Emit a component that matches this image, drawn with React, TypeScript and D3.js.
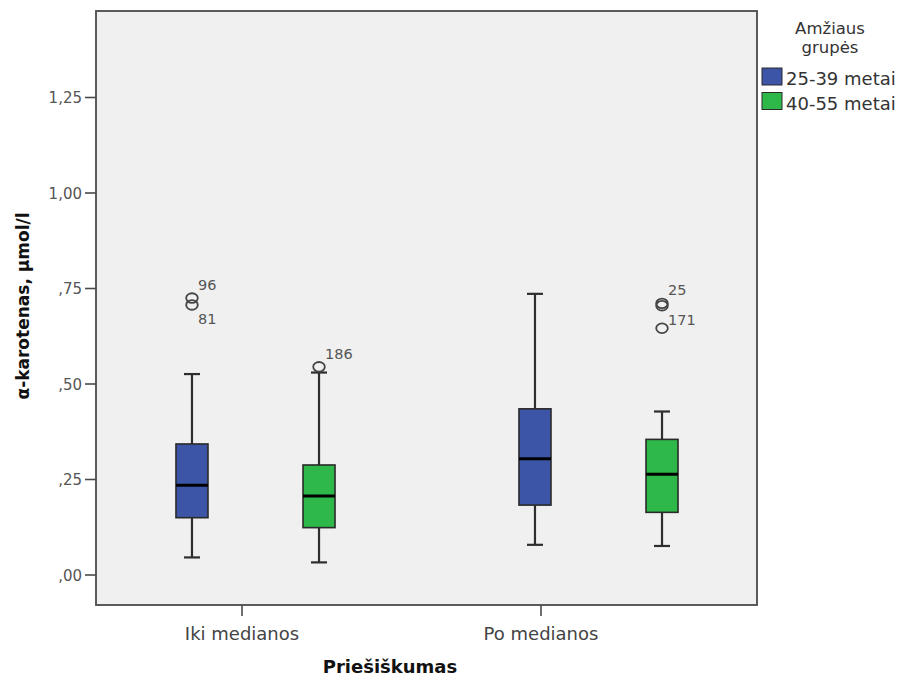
import React from "react";
import * as d3 from "d3";

// Categories (x axis) and age groups (series)
const categories = ["Iki medianos", "Po medianos"];
const series = ["25-39 metai", "40-55 metai"];
const seriesColors = ["#3c55a6", "#2eb84a"];

// Box statistics per series, one value per category
const whiskerLow = [
  [0.046, 0.079],
  [0.033, 0.076],
];
const q1 = [
  [0.15, 0.183],
  [0.124, 0.164],
];
const median = [
  [0.235, 0.304],
  [0.207, 0.264],
];
const q3 = [
  [0.343, 0.435],
  [0.288, 0.355],
];
const whiskerHigh = [
  [0.526, 0.736],
  [0.53, 0.428],
];

// Outliers: category index, series index, value, case label, label side
const outlierCategory = [0, 0, 0, 1, 1, 1];
const outlierSeries = [0, 0, 1, 1, 1, 1];
const outlierValue = [0.725, 0.707, 0.545, 0.711, 0.705, 0.646];
const outlierLabel = ["96", "81", "186", "25", "171", ""];
const outlierSide = ["above", "below", "above", "above", "below", "below"];

// Y axis ticks
const yTickValues = [0, 0.25, 0.5, 0.75, 1.0, 1.25];
const yTickLabels = [",00", ",25", ",50", ",75", "1,00", "1,25"];

const yTitle = "α-karotenas, µmol/l";
const xTitle = "Priešiškumas";
const legendTitle = ["Amžiaus", "grupės"];

const W = 903;
const H = 676;
const FONT = "'DejaVu Sans', Verdana, sans-serif";

export default function App() {
  const frame = { left: 96, right: 757, top: 11, bottom: 605 };

  const y = d3.scaleLinear().domain([0, 1.25]).range([575, 97.5]);

  // axis tick positions
  const xTick = d3.scaleBand<string>().domain(categories).range([92.5, 690.5]);
  // box group positions and series offsets within a group
  const xGroup = d3.scaleBand<string>().domain(categories).range([84, 770]);
  const xSeries = d3
    .scalePoint<string>()
    .domain(series)
    .range([0, xGroup.bandwidth()])
    .padding(0.85);

  const boxW = 32;
  const capW = 16;
  const cx = (ci: number, si: number) =>
    (xGroup(categories[ci]) as number) + (xSeries(series[si]) as number);

  const boxes: React.ReactNode[] = [];
  series.forEach((s, si) => {
    categories.forEach((c, ci) => {
      const x = cx(ci, si);
      boxes.push(
        <g key={`${s}-${c}`}>
          <line x1={x} x2={x} y1={y(whiskerHigh[si][ci])} y2={y(q3[si][ci])} stroke="#2e2e2e" strokeWidth={2.2} />
          <line x1={x} x2={x} y1={y(q1[si][ci])} y2={y(whiskerLow[si][ci])} stroke="#2e2e2e" strokeWidth={2.2} />
          <line x1={x - capW / 2} x2={x + capW / 2} y1={y(whiskerHigh[si][ci])} y2={y(whiskerHigh[si][ci])} stroke="#2e2e2e" strokeWidth={2.2} />
          <line x1={x - capW / 2} x2={x + capW / 2} y1={y(whiskerLow[si][ci])} y2={y(whiskerLow[si][ci])} stroke="#2e2e2e" strokeWidth={2.2} />
          <rect
            x={x - boxW / 2}
            y={y(q3[si][ci])}
            width={boxW}
            height={y(q1[si][ci]) - y(q3[si][ci])}
            fill={seriesColors[si]}
            stroke="#2a2a2a"
            strokeWidth={1.6}
          />
          <line x1={x - boxW / 2} x2={x + boxW / 2} y1={y(median[si][ci])} y2={y(median[si][ci])} stroke="#000" strokeWidth={3} />
        </g>
      );
    });
  });

  const outliers = outlierValue.map((v, i) => {
    const x = cx(outlierCategory[i], outlierSeries[i]);
    const yy = y(v);
    const dy = outlierSide[i] === "above" ? -13 : 14;
    return (
      <g key={`o${i}`}>
        <ellipse cx={x} cy={yy} rx={5.8} ry={4.8} fill="none" stroke="#444" strokeWidth={1.8} />
        {outlierLabel[i] && (
          <text x={x + 6} y={yy + dy + 5} fontSize={14.5} fill="#555" fontFamily={FONT}>
            {outlierLabel[i]}
          </text>
        )}
      </g>
    );
  });

  return (
    <svg
      width={W}
      height={H}
      style={{ position: "fixed", left: 0, top: 0, background: "#fff" }}
    >
      <rect x={0} y={0} width={W} height={H} fill="#fff" />
      <rect
        x={frame.left}
        y={frame.top}
        width={frame.right - frame.left}
        height={frame.bottom - frame.top}
        fill="#f0f0f0"
        stroke="#4a4a4a"
        strokeWidth={1.8}
      />

      {/* y axis */}
      {yTickValues.map((v, i) => (
        <g key={`yt${i}`}>
          <line x1={85} x2={frame.left} y1={y(v)} y2={y(v)} stroke="#4a4a4a" strokeWidth={1.6} />
          <text x={82} y={y(v) + 5.5} textAnchor="end" fontSize={15} fill="#555" fontFamily={FONT}>
            {yTickLabels[i]}
          </text>
        </g>
      ))}
      <text
        transform={`translate(29, 306) rotate(-90)`}
        textAnchor="middle"
        fontSize={17}
        fontWeight="bold"
        fill="#111"
        fontFamily={FONT}
      >
        {yTitle}
      </text>

      {/* x axis */}
      {categories.map((c) => {
        const x = (xTick(c) as number) + xTick.bandwidth() / 2;
        return (
          <g key={`xt${c}`}>
            <line x1={x} x2={x} y1={frame.bottom} y2={frame.bottom + 11} stroke="#4a4a4a" strokeWidth={1.6} />
            <text x={x} y={640} textAnchor="middle" fontSize={18} fill="#444" fontFamily={FONT}>
              {c}
            </text>
          </g>
        );
      })}
      <text x={390} y={673} textAnchor="middle" fontSize={18} fontWeight="bold" fill="#111" fontFamily={FONT}>
        {xTitle}
      </text>

      {boxes}
      {outliers}

      {/* legend */}
      {legendTitle.map((t, i) => (
        <text key={t} x={830} y={34 + i * 19} textAnchor="middle" fontSize={16.5} fill="#333" fontFamily={FONT}>
          {t}
        </text>
      ))}
      {series.map((s, i) => (
        <g key={`lg${s}`}>
          <rect x={762} y={68 + i * 24.5} width={20} height={17} fill={seriesColors[i]} stroke="#2a2a2a" strokeWidth={1} />
          <text x={786} y={85 + i * 24.5} fontSize={18} fill="#333" fontFamily={FONT}>
            {s}
          </text>
        </g>
      ))}
    </svg>
  );
}
